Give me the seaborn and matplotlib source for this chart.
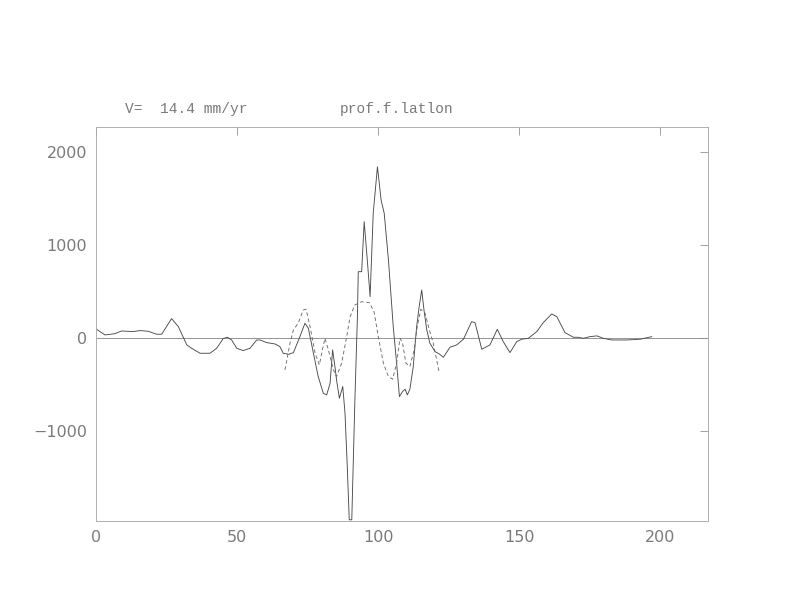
import seaborn as sns
import matplotlib.pyplot as plt

# solid profile (observed)
x_obs = [0, 3.2, 6.7, 9.1, 13, 15.6, 18.5, 21.5, 23.3, 26.8, 29.2, 32.2, 33.9, 36.9,
         40.4, 42.8, 45.1, 46.6, 48.1, 49.9, 52.2, 54.6, 57, 58.2, 60.5, 63.5, 65.2,
         66.4, 68.4, 70, 72.3, 74.1, 75.3, 77.1, 78.8, 80.6, 81.8, 83, 83.9, 84.8,
         85.3, 86.3, 87.5, 88.3, 89.1, 89.8, 90.7, 91.8, 92.7, 93, 94.2, 95.1, 96.2,
         97.2, 98.3, 99.8, 101.1, 102.2, 103.7, 105.4, 106.6, 107.6, 108.7, 109.6,
         110.4, 111.3, 112.5, 113.7, 114.6, 115.5, 116.3, 117.3, 118.4, 120.2, 121.7,
         123.2, 125.5, 127.9, 130.3, 132.1, 133.2, 134.4, 136.8, 139.7, 142.3, 144.4,
         146.8, 149.2, 151, 153.3, 156.3, 158.6, 161.6, 163.4, 166.3, 169.3, 171,
         172.8, 175.2, 177.6, 179.9, 182.9, 188.2, 192.9, 197.1]
y_obs = [97, 32, 46, 75, 68, 79, 72, 40, 40, 208, 122, -75, -111, -165,
         -165, -111, -7, 7, -22, -111, -136, -111, -22, -22, -50, -65, -93,
         -165, -176, -158, 14, 158, 104, -165, -416, -595, -613, -487, -129, -326,
         -452, -649, -523, -810, -1384, -1957, -1957, -667, 229, 713, 713, 1251, 839,
         444, 1341, 1842, 1484, 1341, 839, 122, -272, -631, -577, -552,
         -613, -552, -308, 122, 337, 516, 301, 86, -57, -147, -172,
         -208, -100, -75, -14, 104, 175, 165, -122, -75, 93, -39,
         -158, -39, -14, -4, 68, 165, 258, 229, 57, 7, 7,
         -4, 14, 22, -4, -22, -22, -14, 14]

# dashed profile (model)
x_mod = [67, 68.8, 70, 71.7, 73.5, 74.5, 75.9, 77.7, 79.2, 80.4, 81.2, 82.4, 84.2,
         85.3, 87.1, 88.9, 90.1, 91.8, 94.2, 96.9, 98.6, 100.1, 101.9, 103.7, 105.2,
         106.6, 107.8, 108.7, 109.9, 111.3, 112.8, 113.9, 115.2, 116.7, 118.2, 119.6,
         120.8, 121.7]
y_mod = [-344, -57, 86, 158, 301, 308, 122, -165, -290, -111, -4, -129, -344,
         -416, -272, 14, 229, 355, 390, 380, 283, 14, -272, -416, -444,
         -272, -4, -57, -272, -308, -129, 122, 308, 265, 86, -57,
         -237, -373]

sns.set_style('white')
gray = '#8c8c8c'

fig = plt.figure(figsize=(11, 8.5), dpi=72)
ax = fig.add_axes([0.1212, 0.1487, 0.7727, 0.6438])

ax.axhline(0, color=gray, lw=0.9, zorder=1)
sns.lineplot(x=x_obs, y=y_obs, ax=ax, color='#4a4a4a', lw=0.9, sort=False)
sns.lineplot(x=x_mod, y=y_mod, ax=ax, color='#6a6a6a', lw=0.9, sort=False,
             linestyle=(0, (4, 3)))

ax.set_xlim(0, 217)
ax.set_ylim(-1970, 2270)
ax.set_xticks([0, 50, 100, 150, 200])
ax.set_yticks([-1000, 0, 1000, 2000])
ax.tick_params(direction='in', length=8, width=0.8, color=gray, labelcolor='#7a7a7a',
               labelsize=16, top=True, right=True, pad=9)
for s in ax.spines.values():
    s.set_color('#aaaaaa')
    s.set_linewidth(0.9)

fig.text(0.158, 0.815, 'V=  14.4 mm/yr', color='#7a7a7a', fontsize=14.5,
         family='Liberation Mono')
fig.text(0.429, 0.815, 'prof.f.latlon', color='#7a7a7a', fontsize=14.5,
         family='Liberation Mono')

fig.savefig('out.png', dpi=72)
